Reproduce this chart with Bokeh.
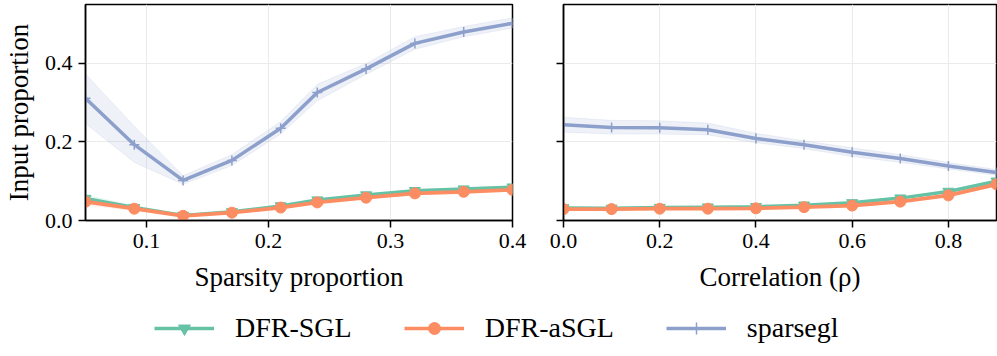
from bokeh.plotting import figure
from bokeh.models import (FixedTicker, Range1d, Legend, LegendItem,
                          CustomJSTickFormatter, PrintfTickFormatter, ColumnDataSource)
from bokeh.layouts import column, row
from bokeh.embed import file_html
from bokeh.resources import INLINE

# ---------------- data ----------------
sparsity = [0.05, 0.09, 0.13, 0.17, 0.21, 0.24, 0.28, 0.32, 0.36, 0.40]
sp_dfr_sgl = [0.056, 0.033, 0.013, 0.022, 0.037, 0.052, 0.065, 0.076, 0.080, 0.085]
sp_dfr_sgl_lo = [0.046, 0.028, 0.010, 0.019, 0.033, 0.048, 0.061, 0.072, 0.076, 0.081]
sp_dfr_sgl_hi = [0.066, 0.038, 0.016, 0.025, 0.041, 0.056, 0.069, 0.080, 0.084, 0.089]
sp_dfr_asgl = [0.048, 0.030, 0.012, 0.020, 0.033, 0.046, 0.058, 0.069, 0.073, 0.078]
sp_dfr_asgl_lo = [0.038, 0.025, 0.009, 0.017, 0.029, 0.042, 0.054, 0.065, 0.069, 0.074]
sp_dfr_asgl_hi = [0.058, 0.035, 0.015, 0.023, 0.037, 0.050, 0.062, 0.073, 0.077, 0.082]
sp_sparsegl = [0.311, 0.193, 0.102, 0.153, 0.235, 0.326, 0.386, 0.451, 0.480, 0.502]
sp_sparsegl_lo = [0.247, 0.148, 0.092, 0.140, 0.220, 0.305, 0.372, 0.436, 0.468, 0.490]
sp_sparsegl_hi = [0.373, 0.240, 0.114, 0.168, 0.252, 0.347, 0.400, 0.468, 0.494, 0.516]

correlation = [0.0, 0.1, 0.2, 0.3, 0.4, 0.5, 0.6, 0.7, 0.8, 0.9]
co_dfr_sgl = [0.032, 0.031, 0.033, 0.034, 0.035, 0.039, 0.045, 0.057, 0.074, 0.100]
co_dfr_sgl_lo = [0.029, 0.028, 0.030, 0.031, 0.032, 0.036, 0.042, 0.054, 0.070, 0.095]
co_dfr_sgl_hi = [0.035, 0.034, 0.036, 0.037, 0.038, 0.042, 0.048, 0.060, 0.078, 0.105]
co_dfr_asgl = [0.029, 0.029, 0.030, 0.030, 0.031, 0.034, 0.038, 0.048, 0.064, 0.092]
co_dfr_asgl_lo = [0.026, 0.026, 0.027, 0.027, 0.028, 0.031, 0.035, 0.045, 0.060, 0.087]
co_dfr_asgl_hi = [0.032, 0.032, 0.033, 0.033, 0.034, 0.037, 0.041, 0.051, 0.068, 0.097]
co_sparsegl = [0.244, 0.237, 0.236, 0.231, 0.209, 0.193, 0.174, 0.158, 0.139, 0.122]
co_sparsegl_lo = [0.225, 0.220, 0.220, 0.218, 0.198, 0.183, 0.163, 0.148, 0.131, 0.115]
co_sparsegl_hi = [0.263, 0.255, 0.254, 0.248, 0.222, 0.203, 0.185, 0.168, 0.148, 0.130]

y_ticks = [0.0, 0.2, 0.4]
sp_ticks = [0.1, 0.2, 0.3, 0.4]
co_ticks = [0.0, 0.2, 0.4, 0.6, 0.8]
labels = ["DFR-SGL", "DFR-aSGL", "sparsegl"]

GREEN = "#66c2a5"
ORANGE = "#fc8d62"
BLUE = "#8da0cb"
FONT = "Liberation Serif"


def style(p, xticks):
    p.xaxis.ticker = FixedTicker(ticks=xticks)
    p.yaxis.ticker = FixedTicker(ticks=y_ticks)
    p.xaxis.formatter = PrintfTickFormatter(format="%.1f")
    for ax in (p.xaxis, p.yaxis):
        ax.axis_line_color = "black"
        ax.axis_line_width = 1.5
        ax.major_tick_line_color = "black"
        ax.major_tick_line_width = 1.5
        ax.major_tick_out = 7
        ax.major_tick_in = 0
        ax.minor_tick_line_color = None
        ax.major_label_text_font = FONT
        ax.major_label_text_font_size = "22px"
        ax.major_label_text_color = "black"
        ax.axis_label_text_font = FONT
        ax.axis_label_text_font_size = "27px"
        ax.axis_label_text_font_style = "normal"
        ax.axis_label_text_color = "black"
        ax.major_label_standoff = 6
    p.xaxis.axis_label_standoff = 11
    p.yaxis.axis_label_standoff = 8
    p.grid.grid_line_color = "#ebebeb"
    p.grid.grid_line_width = 1
    p.outline_line_color = "black"
    p.outline_line_width = 1.5
    p.outline_line_alpha = 1


def draw(p, x, g, glo, ghi, o, olo, ohi, s, slo, shi):
    src = ColumnDataSource(dict(x=x, g=g, glo=glo, ghi=ghi, o=o, olo=olo, ohi=ohi,
                                s=s, slo=slo, shi=shi))
    p.varea(x="x", y1="glo", y2="ghi", source=src, fill_color=GREEN, fill_alpha=0.15)
    p.varea(x="x", y1="olo", y2="ohi", source=src, fill_color=ORANGE, fill_alpha=0.15)
    p.varea(x="x", y1="slo", y2="shi", source=src, fill_color=BLUE, fill_alpha=0.15)
    p.line(x="x", y="slo", source=src, line_color=BLUE, line_alpha=0.12, line_width=1)
    p.line(x="x", y="shi", source=src, line_color=BLUE, line_alpha=0.12, line_width=1)
    p.line(x="x", y="g", source=src, line_color=GREEN, line_width=3.5)
    p.scatter(x="x", y="g", source=src, marker="inverted_triangle", size=11,
              fill_color=GREEN, line_color=GREEN)
    p.line(x="x", y="o", source=src, line_color=ORANGE, line_width=3.8)
    p.scatter(x="x", y="o", source=src, marker="circle", size=11,
              fill_color=ORANGE, line_color=ORANGE)
    p.line(x="x", y="s", source=src, line_color=BLUE, line_width=3.5)
    p.scatter(x="x", y="s", source=src, marker="cross", size=10,
              line_color=BLUE, line_width=1.5)


p1 = figure(frame_width=427, frame_height=216, toolbar_location=None, output_backend="svg",
            x_range=Range1d(0.05, 0.4), y_range=Range1d(0.0, 0.55),
            min_border_left=75, min_border_right=20, min_border_top=4, min_border_bottom=76,
            x_axis_label="Sparsity proportion", y_axis_label="Input proportion")
style(p1, sp_ticks)
p1.yaxis.formatter = PrintfTickFormatter(format="%.1f")
draw(p1, sparsity, sp_dfr_sgl, sp_dfr_sgl_lo, sp_dfr_sgl_hi, sp_dfr_asgl, sp_dfr_asgl_lo,
     sp_dfr_asgl_hi, sp_sparsegl, sp_sparsegl_lo, sp_sparsegl_hi)

p2 = figure(frame_width=433, frame_height=216, toolbar_location=None, output_backend="svg",
            x_range=Range1d(0.0, 0.9), y_range=Range1d(0.0, 0.55),
            min_border_left=31, min_border_right=3, min_border_top=4, min_border_bottom=76,
            x_axis_label="Correlation (ρ)")
style(p2, co_ticks)
p2.yaxis.formatter = CustomJSTickFormatter(code="return ''")
draw(p2, correlation, co_dfr_sgl, co_dfr_sgl_lo, co_dfr_sgl_hi, co_dfr_asgl, co_dfr_asgl_lo,
     co_dfr_asgl_hi, co_sparsegl, co_sparsegl_lo, co_sparsegl_hi)

# legend figure
p3 = figure(width=989, height=56, toolbar_location=None, output_backend="svg",
            x_range=Range1d(0, 1), y_range=Range1d(0, 1), min_border=0)
p3.axis.visible = False
p3.grid.visible = False
p3.outline_line_color = None
items = []
for lab, col, mk, sz in zip(labels, [GREEN, ORANGE, BLUE],
                            ["inverted_triangle", "circle", "cross"], [11, 11, 10]):
    lr = p3.line(x=[-5, -4], y=[-5, -4], line_color=col, line_width=3.5)
    sr = p3.scatter(x=[-5], y=[-5], marker=mk, size=sz, fill_color=col, line_color=col,
                    line_width=1.5 if mk == "cross" else 1)
    items.append(LegendItem(label=lab, renderers=[lr, sr]))
legend = Legend(items=items, orientation="horizontal", location=(154, 8),
                glyph_width=60, glyph_height=30, label_standoff=21, spacing=52,
                padding=0, margin=0, border_line_alpha=0, background_fill_alpha=0,
                label_text_font=FONT, label_text_font_size="28px", label_text_color="black")
p3.add_layout(legend)

layout = column(row(p1, p2, spacing=0), p3, spacing=0)
open("out.html", "w").write(file_html(layout, INLINE))
